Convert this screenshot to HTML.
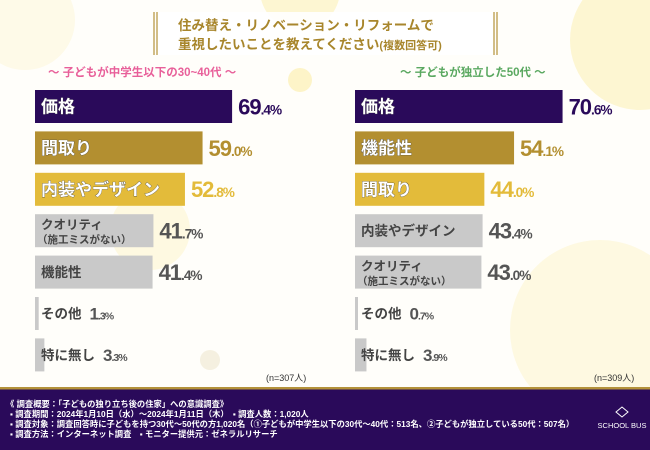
<!DOCTYPE html>
<html><head><meta charset="utf-8">
<style>
html,body{margin:0;padding:0}
body{width:650px;height:450px;position:relative;overflow:hidden;background:#fffefa;font-family:"Liberation Sans","Noto Sans CJK JP",sans-serif}
svg{position:absolute;left:0;top:0}
</style></head>
<body>
<svg id="chart" width="650" height="450" viewBox="0 0 650 450">
  <g>
    <circle cx="640" cy="40" r="70" fill="#fdf4c8" opacity="0.8"/>
    <circle cx="300" cy="-10" r="40" fill="#fdf4c8" opacity="0.8"/>
    <circle cx="600" cy="330" r="90" fill="#fdf6d6" opacity="0.7"/>
    <circle cx="150" cy="230" r="40" fill="#fdf6d6" opacity="0.7"/>
    <circle cx="300" cy="80" r="12" fill="#fdf4c8"/>
    <circle cx="210" cy="360" r="10" fill="#f5f0e0"/>
    <circle cx="25" cy="20" r="50" fill="#fdf8e0" opacity="0.7"/>
  </g>
  <g>
    <rect x="156" y="12" width="338" height="43" fill="#ffffff" opacity="0.9"/>
    <line x1="154" y1="12" x2="154" y2="55" stroke="#b4923a" stroke-width="1.2"/>
    <line x1="157" y1="12" x2="157" y2="55" stroke="#b4923a" stroke-width="1.2"/>
    <line x1="494" y1="12" x2="494" y2="55" stroke="#b4923a" stroke-width="1.2"/>
    <line x1="497" y1="12" x2="497" y2="55" stroke="#b4923a" stroke-width="1.2"/>
    <text x="178" y="30" font-size="13.5" font-weight="bold" fill="#a8862c">住み替え・リノベーション・リフォームで</text>
    <text x="178" y="49" font-size="13.5" font-weight="bold" fill="#a8862c">重視したいことを教えてください<tspan font-size="11">(複数回答可)</tspan></text>
  </g>
  <text x="48" y="76" font-size="11.5" font-weight="bold" fill="#e8609a">～ 子どもが中学生以下の30~40代 ～</text>
  <text x="400" y="76" font-size="11.5" font-weight="bold" fill="#5aa860">～ 子どもが独立した50代 ～</text>
  <g id="left"></g>
  <g id="right"></g>
  <text x="266" y="381" font-size="9" fill="#333">(n=307人)</text>
  <text x="594" y="381" font-size="9" fill="#333">(n=309人)</text>
  <g>
    <rect x="0" y="387" width="650" height="2.5" fill="#b4923a"/>
    <rect x="0" y="389.5" width="650" height="61" fill="#2a0a5a"/>
    <g font-size="8.3" font-weight="bold" fill="#ffffff">
      <text x="6" y="407">《 調査概要：「子どもの独り立ち後の住家」への意識調査》</text>
      <text x="10" y="417">▪ 調査期間：2024年1月10日（水）～2024年1月11日（木）　▪ 調査人数：1,020人</text>
      <text x="10" y="427">▪ 調査対象：調査回答時に子どもを持つ30代～50代の方1,020名（①子どもが中学生以下の30代～40代：513名、②子どもが独立している50代：507名）</text>
      <text x="10" y="437">▪ 調査方法：インターネット調査　▪ モニター提供元：ゼネラルリサーチ</text>
    </g>
    <g>
      <path d="M616 412 l6 -5 l6 5 l-6 5 z" fill="none" stroke="#fff" stroke-width="1"/>
      <text x="622" y="428" font-size="7.5" fill="#fff" text-anchor="middle">SCHOOL BUS</text>
    </g>
  </g>
</svg>
<script>
const leftCategories = ["価格","間取り","内装やデザイン","クオリティ|（施工ミスがない）","機能性","その他","特に無し"];
const leftValues = [69.4,59.0,52.8,41.7,41.4,1.3,3.3];
const rightCategories = ["価格","機能性","間取り","内装やデザイン","クオリティ|（施工ミスがない）","その他","特に無し"];
const rightValues = [70.6,54.1,44.0,43.4,43.0,0.7,3.9];

const NS = "http://www.w3.org/2000/svg";
const fills = ["#2a0a5a","#b38f30","#e3bb3a"];
const txtCols = ["#2a0a5a","#b38f30","#e3bb3a"];
function mk(tag, attrs, parent){const e=document.createElementNS(NS,tag);for(const k in attrs)e.setAttribute(k,attrs[k]);parent.appendChild(e);return e;}

function drawPanel(g, cats, vals, x0, pxPer){
  const xScale = v => v*pxPer;
  const yTop = i => 90 + i*41.4;
  const h = 33;
  cats.forEach((c,i)=>{
    const v = vals[i];
    const w = Math.max(xScale(v), 3);
    const y = yTop(i);
    const fill = i<3 ? fills[i] : "#c9c9c9";
    const bar = mk("rect",{x:x0,y:y,width:w,height:h,fill:fill},g);
    
    
    const lines = c.split("|");
    const colored = i<3;
    const lbl = mk("text",{x:x0+6,y:0,"font-weight":"bold",fill:colored?"#ffffff":"#444444"},g);
    
    
    if(colored){lbl.setAttribute("stroke","#444");lbl.setAttribute("stroke-width","0.6");lbl.setAttribute("paint-order","stroke");}
    let labelW;
    if(lines.length===2){
      lbl.setAttribute("font-size","12.5");
      lbl.setAttribute("y",y+15);
      lbl.textContent=lines[0];
      const l2=mk("text",{x:x0+2,y:y+29,"font-size":"10.5","font-weight":"bold",fill:"#444"},g);
      
      
      l2.textContent=lines[1];
      labelW=100;
    } else {
      const fs = colored?17:13.5;
      lbl.setAttribute("font-size",fs);
      lbl.setAttribute("y",y+h/2+fs*0.36);
      lbl.textContent=lines[0];
      labelW=lbl.getComputedTextLength?lbl.getComputedTextLength():lines[0].length*fs;
    }
    let vx = x0 + w + 6;
    if(w < labelW+10) vx = x0 + 6 + labelW + 8;
    const valBig = colored || v>10 ? 22 : 17;
    const parts = v.toFixed(1).split(".");
    const vt = mk("text",{x:vx,y:y+h/2+valBig*0.36,"font-weight":"bold",fill:colored?txtCols[i]:"#555555","font-size":valBig,"letter-spacing":"-1"},g);
    
    
    const t1=mk("tspan",{},vt);t1.textContent=parts[0];
    const t2=mk("tspan",{"font-size":valBig*0.62},vt);t2.textContent="."+parts[1]+"%";
  });
}
drawPanel(document.getElementById("left"), leftCategories, leftValues, 35, 2.84);
drawPanel(document.getElementById("right"), rightCategories, rightValues, 355, 2.94);
</script>
</body></html>
